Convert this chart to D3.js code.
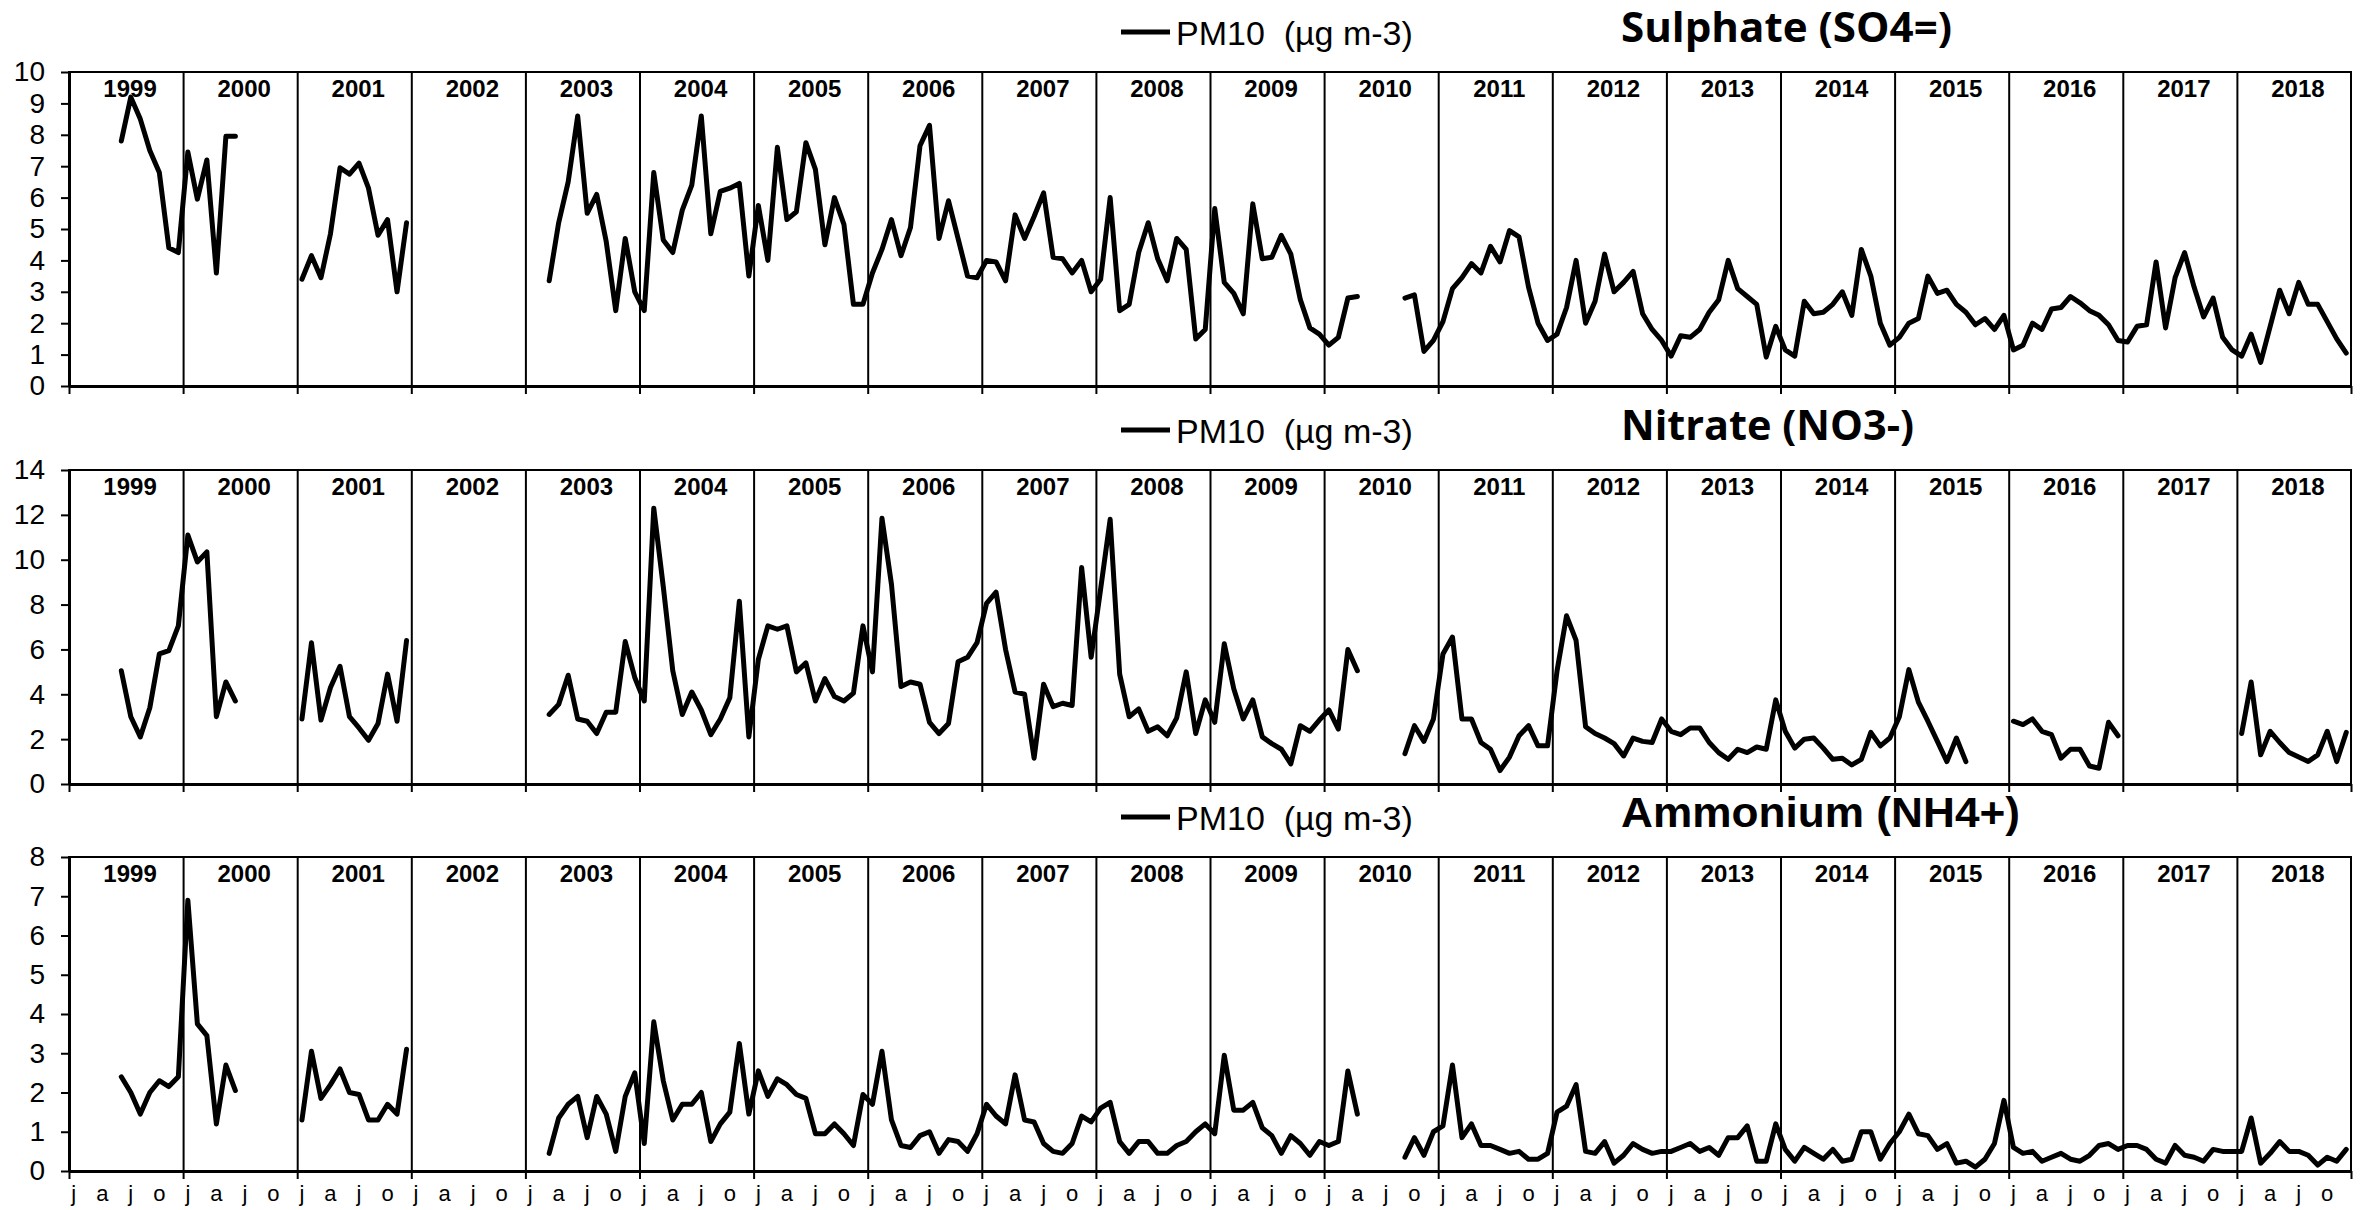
<!DOCTYPE html>
<html>
<head>
<meta charset="utf-8">
<title>PM10 ions</title>
<script src="https://cdn.jsdelivr.net/npm/d3@7/dist/d3.min.js"></script>
<style>
  body { margin: 0; background: #fff; }
  text { font-family: "Liberation Sans", Arial, sans-serif; fill: #000; }
</style>
</head>
<body>
<svg width="2372" height="1210" id="mainsvg"></svg>
<script>
// ---- data ----
const years = d3.range(1999, 2019);
const quarterLabels = ['j', 'a', 'j', 'o'];
const legendLabel = 'PM10  (µg m-3)';
const titles = ['Sulphate (SO4=)', 'Nitrate (NO3-)', 'Ammonium (NH4+)'];
const yMaxes = [10, 14, 8];
const ySteps = [1, 2, 1];
const _ = null;

// monthly values, one row per year (jan..dec)
const sulphate = [
  _, _, _, _, _, 7.8, 9.2, 8.5, 7.5, 6.8, 4.4, 4.25,
  7.45, 5.95, 7.2, 3.6, 7.95, 7.95, _, _, _, _, _, _,
  3.4, 4.15, 3.45, 4.85, 6.95, 6.75, 7.1, 6.3, 4.8, 5.3, 3.0, 5.2,
  _, _, _, _, _, _, _, _, _, _, _, _,
  _, _, 3.35, 5.2, 6.5, 8.6, 5.5, 6.1, 4.6, 2.4, 4.7, 3.0,
  2.4, 6.8, 4.65, 4.25, 5.6, 6.4, 8.6, 4.85, 6.2, 6.3, 6.45, 3.5,
  5.75, 4.0, 7.6, 5.3, 5.55, 7.75, 6.9, 4.5, 6.0, 5.15, 2.6, 2.6,
  3.6, 4.35, 5.3, 4.15, 5.05, 7.65, 8.3, 4.7, 5.9, 4.7, 3.5, 3.45,
  4.0, 3.95, 3.35, 5.45, 4.7, 5.4, 6.15, 4.1, 4.05, 3.6, 4.0, 3.0,
  3.4, 6.0, 2.4, 2.6, 4.25, 5.2, 4.05, 3.35, 4.7, 4.35, 1.5, 1.8,
  5.65, 3.3, 2.95, 2.3, 5.8, 4.05, 4.1, 4.8, 4.2, 2.75, 1.85, 1.65,
  1.3, 1.55, 2.8, 2.85, _, _, _, _, 2.8, 2.9, 1.1, 1.45,
  2.05, 3.1, 3.45, 3.9, 3.6, 4.45, 3.95, 4.95, 4.75, 3.15, 2.0, 1.45,
  1.65, 2.5, 4.0, 2.0, 2.7, 4.2, 3.0, 3.3, 3.65, 2.3, 1.8, 1.45,
  0.95, 1.6, 1.55, 1.8, 2.35, 2.75, 4.0, 3.1, 2.85, 2.6, 0.92, 1.9,
  1.15, 0.95, 2.7, 2.3, 2.35, 2.6, 3.0, 2.25, 4.35, 3.5, 2.0, 1.3,
  1.55, 2.0, 2.15, 3.5, 2.95, 3.05, 2.6, 2.35, 1.95, 2.15, 1.8, 2.25,
  1.15, 1.3, 2.0, 1.8, 2.45, 2.5, 2.85, 2.65, 2.4, 2.25, 1.95, 1.45,
  1.4, 1.9, 1.95, 3.95, 1.85, 3.45, 4.25, 3.15, 2.2, 2.8, 1.55, 1.15,
  0.95, 1.65, 0.75, 1.9, 3.05, 2.3, 3.3, 2.6, 2.6, 2.05, 1.5, 1.05
];

const nitrate = [
  _, _, _, _, _, 5.05, 3.0, 2.1, 3.4, 5.8, 5.95, 7.05,
  11.1, 9.9, 10.35, 3.0, 4.55, 3.7, _, _, _, _, _, _,
  2.9, 6.3, 2.85, 4.3, 5.25, 3.0, 2.5, 1.95, 2.7, 4.9, 2.8, 6.4,
  _, _, _, _, _, _, _, _, _, _, _, _,
  _, _, 3.1, 3.55, 4.85, 2.9, 2.8, 2.25, 3.2, 3.2, 6.35, 4.75,
  3.7, 12.3, 8.8, 5.05, 3.1, 4.1, 3.3, 2.2, 2.9, 3.85, 8.15, 2.1,
  5.55, 7.05, 6.9, 7.05, 5.0, 5.4, 3.7, 4.7, 3.9, 3.7, 4.05, 7.05,
  5.0, 11.85, 8.9, 4.35, 4.55, 4.45, 2.75, 2.25, 2.7, 5.45, 5.65, 6.3,
  8.05, 8.55, 6.0, 4.1, 4.0, 1.15, 4.45, 3.45, 3.6, 3.5, 9.65, 5.65,
  8.7, 11.8, 4.9, 3.0, 3.35, 2.35, 2.55, 2.15, 2.95, 5.0, 2.25, 3.75,
  2.75, 6.25, 4.25, 2.9, 3.75, 2.1, 1.8, 1.55, 0.9, 2.6, 2.35, 2.85,
  3.3, 2.45, 6.0, 5.05, _, _, _, _, 1.35, 2.6, 1.9, 2.9,
  5.8, 6.55, 2.9, 2.9, 1.85, 1.55, 0.6, 1.2, 2.15, 2.6, 1.7, 1.7,
  5.05, 7.5, 6.4, 2.55, 2.25, 2.05, 1.8, 1.25, 2.05, 1.9, 1.85, 2.9,
  2.35, 2.2, 2.5, 2.5, 1.85, 1.4, 1.1, 1.55, 1.4, 1.65, 1.55, 3.75,
  2.35, 1.6, 2.0, 2.05, 1.6, 1.1, 1.15, 0.85, 1.1, 2.3, 1.7, 2.05,
  3.0, 5.1, 3.65, 2.8, 1.9, 1.0, 2.05, 1.0, _, _, _, _,
  2.8, 2.65, 2.9, 2.35, 2.2, 1.15, 1.55, 1.55, 0.8, 0.7, 2.75, 2.15,
  _, _, _, _, _, _, _, _, _, _, _, _,
  2.25, 4.55, 1.3, 2.35, 1.85, 1.4, 1.2, 1.0, 1.3, 2.35, 1.0, 2.3
];

const ammonium = [
  _, _, _, _, _, 2.4, 2.0, 1.45, 2.0, 2.3, 2.15, 2.4,
  6.9, 3.75, 3.45, 1.2, 2.7, 2.05, _, _, _, _, _, _,
  1.3, 3.05, 1.85, 2.2, 2.6, 2.0, 1.95, 1.3, 1.3, 1.7, 1.45, 3.1,
  _, _, _, _, _, _, _, _, _, _, _, _,
  _, _, 0.45, 1.35, 1.7, 1.9, 0.85, 1.9, 1.45, 0.5, 1.9, 2.5,
  0.7, 3.8, 2.3, 1.3, 1.7, 1.7, 2.0, 0.75, 1.2, 1.5, 3.25, 1.45,
  2.55, 1.9, 2.35, 2.2, 1.95, 1.85, 0.95, 0.95, 1.2, 0.95, 0.65, 1.95,
  1.7, 3.05, 1.3, 0.65, 0.6, 0.9, 1.0, 0.45, 0.8, 0.75, 0.5, 0.95,
  1.7, 1.4, 1.2, 2.45, 1.3, 1.25, 0.7, 0.5, 0.45, 0.7, 1.4, 1.25,
  1.6, 1.75, 0.75, 0.45, 0.75, 0.75, 0.45, 0.45, 0.65, 0.75, 1.0, 1.2,
  0.95, 2.95, 1.55, 1.55, 1.75, 1.1, 0.9, 0.45, 0.9, 0.7, 0.4, 0.75,
  0.65, 0.75, 2.55, 1.45, _, _, _, _, 0.35, 0.85, 0.4, 1.0,
  1.15, 2.7, 0.85, 1.2, 0.65, 0.65, 0.55, 0.45, 0.5, 0.3, 0.3, 0.45,
  1.5, 1.65, 2.2, 0.5, 0.45, 0.75, 0.2, 0.4, 0.7, 0.55, 0.45, 0.5,
  0.5, 0.6, 0.7, 0.5, 0.6, 0.4, 0.85, 0.85, 1.15, 0.25, 0.25, 1.2,
  0.55, 0.25, 0.6, 0.45, 0.3, 0.55, 0.25, 0.3, 1.0, 1.0, 0.3, 0.7,
  1.0, 1.45, 0.95, 0.9, 0.55, 0.7, 0.2, 0.25, 0.1, 0.3, 0.7, 1.8,
  0.6, 0.45, 0.5, 0.25, 0.35, 0.45, 0.3, 0.25, 0.4, 0.65, 0.7, 0.55,
  0.65, 0.65, 0.55, 0.3, 0.2, 0.65, 0.4, 0.35, 0.25, 0.55, 0.5, 0.5,
  0.5, 1.35, 0.2, 0.45, 0.75, 0.5, 0.5, 0.4, 0.15, 0.35, 0.25, 0.55
];

const seriesList = [sulphate, nitrate, ammonium];

// ---- layout ----
const svg = d3.select('#mainsvg');
const left = 69, right = 2351;
const panelTops = [72, 470, 857];
const plotH = 314;
const titleFonts = ['"Open Sans", sans-serif', '"Open Sans", sans-serif', '"Liberation Sans", Arial, sans-serif'];
const titleLens = [331, 293, 399];

const months = d3.range(years.length * 12);
const x = d3.scaleBand().domain(months).range([left, right]);
const xMid = i => x(i) + x.bandwidth() / 2;
const xYear = d3.scaleLinear().domain([years[0], years[years.length - 1] + 1]).range([left, right]);

seriesList.forEach((values, p) => {
  const top = panelTops[p];
  const bottom = top + plotH;
  const y = d3.scaleLinear().domain([0, yMaxes[p]]).range([bottom, top]);
  const g = svg.append('g');

  // plot border (top / right)
  g.append('rect')
    .attr('x', left).attr('y', top)
    .attr('width', right - left).attr('height', plotH)
    .attr('fill', 'none').attr('stroke', '#000').attr('stroke-width', 2);

  // year separators
  const sep = g.append('g')
    .attr('transform', `translate(0, ${bottom})`)
    .call(d3.axisBottom(xYear).tickValues(years.slice(1)).tickSize(-plotH).tickFormat(''));
  sep.select('.domain').remove();
  sep.selectAll('line').attr('stroke-width', 2);

  // small year ticks under the axis
  const yt = g.append('g')
    .attr('transform', `translate(0, ${bottom})`)
    .call(d3.axisBottom(xYear).tickValues(d3.range(years[0], years[years.length - 1] + 2)).tickSize(8).tickFormat('').tickSizeOuter(0));
  yt.select('.domain').attr('stroke-width', 3);
  yt.selectAll('line').attr('stroke-width', 2);

  // y axis
  const ya = g.append('g')
    .attr('transform', `translate(${left}, 0)`)
    .call(d3.axisLeft(y).tickValues(d3.range(0, yMaxes[p] + ySteps[p] / 2, ySteps[p]))
      .tickSize(8).tickSizeOuter(0).tickPadding(16));
  ya.select('.domain').attr('stroke-width', 3);
  ya.selectAll('line').attr('stroke-width', 2);
  ya.selectAll('text').style('font-size', '28px').style('font-family', '"Liberation Sans", Arial, sans-serif');

  // year labels
  g.selectAll('.yearLabel')
    .data(years)
    .enter().append('text')
    .attr('x', d => (xYear(d) + xYear(d + 1)) / 2 + 4)
    .attr('y', top + 25)
    .attr('text-anchor', 'middle')
    .style('font-size', '24px')
    .style('font-weight', 'bold')
    .text(d => d);

  // series line
  const line = d3.line()
    .defined(d => d != null)
    .x((d, i) => xMid(i))
    .y(d => y(d));
  g.append('path')
    .datum(values)
    .attr('d', line)
    .attr('fill', 'none')
    .attr('stroke', '#000')
    .attr('stroke-width', 5)
    .attr('stroke-linejoin', 'round')
    .attr('stroke-linecap', 'round');

  // legend
  g.append('line')
    .attr('x1', 1121).attr('x2', 1170)
    .attr('y1', top - 40).attr('y2', top - 40)
    .attr('stroke', '#000').attr('stroke-width', 5);
  g.append('text')
    .attr('x', 1176).attr('y', top - 27)
    .style('font-size', '34px')
    .style('white-space', 'pre')
    .text(legendLabel);

  // title
  g.append('text')
    .attr('x', 1621).attr('y', top - 30)
    .attr('textLength', titleLens[p])
    .attr('lengthAdjust', 'spacingAndGlyphs')
    .style('font-family', titleFonts[p])
    .style('font-size', '42px')
    .style('font-weight', 'bold')
    .text(titles[p]);

  // month labels on the last panel only
  if (p === seriesList.length - 1) {
    const xa = g.append('g')
      .attr('transform', `translate(0, ${bottom})`)
      .call(d3.axisBottom(x).tickValues(months.filter(i => i % 3 === 0))
        .tickFormat(i => quarterLabels[(i % 12) / 3]).tickSize(0).tickPadding(14));
    xa.select('.domain').remove();
    xa.selectAll('text').style('font-size', '22px').style('font-family', '"Liberation Sans", Arial, sans-serif');
  }
});
</script>
</body>
</html>
